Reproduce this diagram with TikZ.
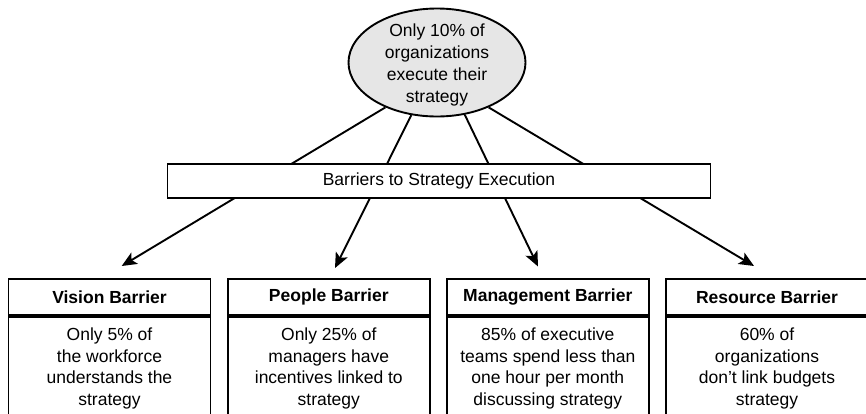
\documentclass[tikz,border=0pt]{standalone}
\usepackage{fontspec}
\setmainfont{Liberation Sans}
\usetikzlibrary{shapes.geometric,arrows.meta,positioning}
\definecolor{bubblegray}{RGB}{230,230,230}
\tikzset{
  bubble/.style={ellipse,draw,fill=bubblegray,line width=1.9pt,minimum width=177pt,minimum height=108pt},
  barbox/.style={draw,fill=white,line width=1.9pt,minimum width=543pt,minimum height=34pt,inner sep=0pt},
  headbox/.style={draw,line width=1.9pt,minimum width=202pt,minimum height=36pt,inner sep=0pt,font=\fontsize{17.5}{21.7}\selectfont\bfseries},
  bodybox/.style={draw,line width=1.9pt,minimum width=202pt,inner xsep=0pt,inner ysep=8pt,anchor=north},
  arr/.style={line width=1.9pt,-{Stealth[length=15pt,width=13pt,inset=3.5pt]}},
}
\newcommand{\bodytext}[1]{\parbox[t][140pt][t]{198pt}{\centering\strut #1}}
\begin{document}
\begin{tikzpicture}[x=1pt,y=-1pt,font=\fontsize{17.5}{21.7}\selectfont]
    \useasboundingbox (0,0) rectangle (866,413);
    % top statement
    \node[bubble] (goal) at (437,62.5) {};
    \node[align=center,yshift=-2.5pt] (goaltext) at (goal) {Only 10\% of\\organizations\\execute their\\strategy};
    % arrow ends above the four barriers
    \coordinate (visiontip) at (121.7,266);
    \coordinate (peopletip) at (335,268);
    \coordinate (mgmttip) at (538,266.5);
    \coordinate (resourcetip) at (754,266);
    \draw[arr] (goal.221.5) -- (visiontip);
    \draw[arr] (goal.244) -- (peopletip);
    \draw[arr] (goal.298) -- (mgmttip);
    \draw[arr] (goal.319.5) -- (resourcetip);
    % banner over the arrows
    \node[barbox] (barriers) at (439,181.3) {Barriers to Strategy Execution};
    % the four barriers
    \node[headbox] (vision) at (109.5,297.4) {Vision Barrier};
    \node[headbox] (people) at (328.8,297.4) {People Barrier};
    \node[headbox] (mgmt) at (547.8,297.4) {Management Barrier};
    \node[headbox] (resource) at (767,297.4) {Resource Barrier};
    \node[bodybox] (visionbody) at (vision.south) {\bodytext{Only 5\% of\\the workforce\\understands the\\strategy}};
    \node[bodybox] (peoplebody) at (people.south) {\bodytext{Only 25\% of\\managers have\\incentives linked to\\strategy}};
    \node[bodybox] (mgmtbody) at (mgmt.south) {\bodytext{85\% of executive\\teams spend less than\\one hour per month\\discussing strategy}};
    \node[bodybox] (resourcebody) at (resource.south) {\bodytext{60\% of\\organizations\\don’t link budgets\\strategy}};
\end{tikzpicture}
\end{document}
